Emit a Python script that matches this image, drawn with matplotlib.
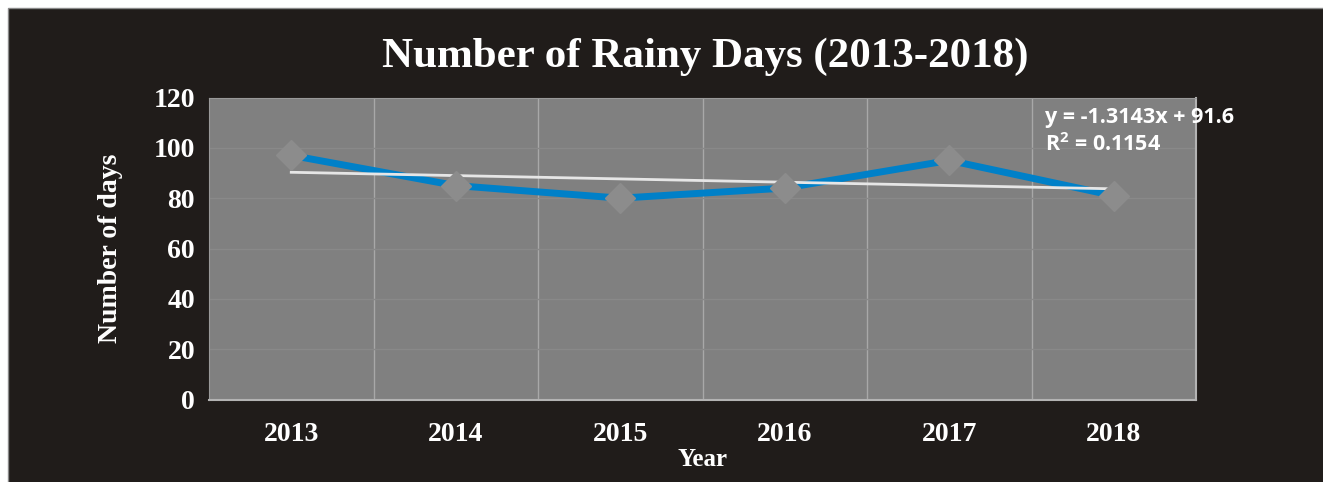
import numpy as np
import matplotlib.pyplot as plt
from matplotlib.patches import Rectangle

# Data
years = ["2013", "2014", "2015", "2016", "2017", "2018"]
rainy_days = [97, 85, 80, 84, 95, 81]
y_ticks = [0, 20, 40, 60, 80, 100, 120]

bg_dark = "#201c1a"
serif = "Liberation Serif"

fig = plt.figure(figsize=(13.23, 4.82), dpi=100)
fig.patch.set_facecolor("white")
# dark chart area, offset from the top-left corner
fig.patches.append(Rectangle((8 / 1323, -0.1), 1.1, 1.1 - 8 / 482, transform=fig.transFigure,
                             facecolor=bg_dark, edgecolor="#8a8a8a", lw=1, zorder=-10))

ax = fig.add_axes([209 / 1323, 1 - 399.5 / 482, 987 / 1323, 302 / 482])
ax.set_facecolor("#808080")

x = np.arange(1, len(years) + 1)

# linear trend line
slope, intercept = np.polyfit(x, rainy_days, 1)
pred = slope * x + intercept
r2 = 1 - np.sum((np.array(rainy_days) - pred) ** 2) / np.sum((np.array(rainy_days) - np.mean(rainy_days)) ** 2)

ax.plot(x, rainy_days, color="#0080c8", lw=5, zorder=3, solid_capstyle="butt")
ax.plot(x, rainy_days, linestyle="none", marker="D", markersize=15,
        color="#8c8c8c", markeredgecolor="#8c8c8c", zorder=4)
ax.plot(x, pred, color="#e6e6e6", lw=2, zorder=3.5)

ax.set_xlim(0.5, len(years) + 0.5)
ax.set_ylim(0, 120)
ax.set_xticks(x)
ax.set_xticklabels(years)
ax.set_yticks(y_ticks)

# vertical gridlines sit between categories
for b in np.arange(1.5, len(years) + 0.5):
    ax.axvline(b, color="#a8a8a8", lw=1, zorder=1)
for t in y_ticks[1:-1]:
    ax.axhline(t, color="#898989", lw=1, zorder=1)

for s in ["top", "left"]:
    ax.spines[s].set_color("#999999")
for s in ["bottom", "right"]:
    ax.spines[s].set_color("#b3b3b3")
    ax.spines[s].set_linewidth(1.5)

ax.tick_params(length=0, colors="white", pad=10)
for lab in ax.get_xticklabels() + ax.get_yticklabels():
    lab.set_fontfamily(serif)
    lab.set_fontweight("bold")
    lab.set_fontsize(20)
ax.tick_params(axis="x", pad=16)

ax.set_xlabel("Year", fontfamily=serif, fontweight="bold", fontsize=18, color="white", labelpad=1)
ax.set_ylabel("Number of days", fontfamily=serif, fontweight="bold", fontsize=20, color="white", labelpad=22)

fig.text(0.533, 0.882, "Number of Rainy Days (2013-2018)", ha="center", va="center",
         fontfamily=serif, fontweight="bold", fontsize=31, color="white")

ax.text(0.847, 0.97, f"y = {slope:.4f}x + {intercept:.1f}\nR$^{{\\mathregular{{2}}}}$ = {r2:.4f}",
        transform=ax.transAxes, ha="left", va="top", fontfamily="Open Sans", fontweight="bold",
        fontsize=15.5, color="white", linespacing=1.3, zorder=5, clip_on=False)

fig.savefig("out.png", dpi=100, facecolor=fig.get_facecolor())
